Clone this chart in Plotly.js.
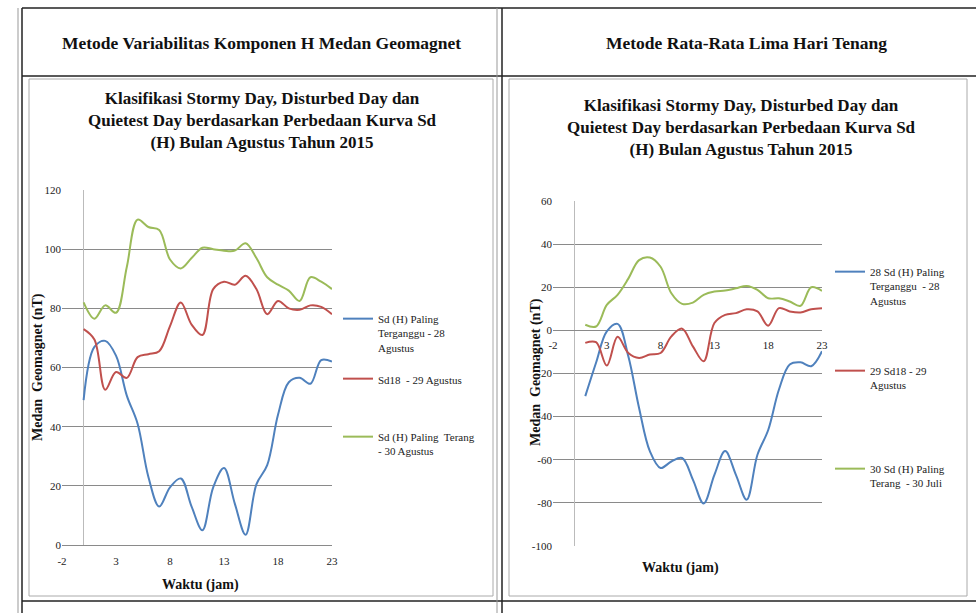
<!DOCTYPE html>
<html>
<head>
<meta charset="utf-8">
<script src="https://cdn.plot.ly/plotly-3.0.1.min.js"></script>
<style>html,body{margin:0;padding:0;background:#fff;}#chart{width:976px;height:613px;}</style>
</head>
<body>
<div id="chart"></div>
<script>
// ---------- data ----------
var hoursLeft = [0,1,2,3,4,5,6,7,8,9,10,11,12,13,14,15,16,17,18,19,20,21,22,23];
var blueLeft  = [49,67,69,64,50.5,41,23,13,19.5,22.5,13,5,19.5,26,14,3.5,20.5,27,44,55,56.5,54.5,62.5,62];
var redLeft   = [73,69.5,52.5,58.5,56.5,63.5,64.5,65.5,74,82,74.5,71,86.5,89,88,91,86.5,78,82.5,80,79.5,81,80.5,78];
var greenLeft = [82,76.5,81,78.5,94,110,107.5,106.5,96.5,93.5,97,100.5,100,99.5,99.5,102,97,90.5,88,86,82.5,90.5,89,86.5];

var hoursRight = [1,2,3,4,5,6,7,8,9,10,11,12,13,14,15,16,17,18,19,20,21,22,23];
var blueRight  = [-30.5,-15,-0.5,3,-12,-36,-56,-63.8,-60.8,-59.2,-69.2,-80.3,-67,-56,-67,-78.5,-57.7,-46.2,-27.4,-15.8,-14.8,-16.6,-9.7];
var redRight   = [-5.8,-5.5,-16.3,-3,-10.5,-12.8,-11.2,-10.5,-2.8,0.8,-7.4,-14.3,3.4,7.2,8,9.8,8.8,2.2,10.3,8.8,8.3,9.8,10.3];
var greenRight = [2.6,1.8,11.8,16.5,24,32.6,33.8,29.5,17.2,12.3,12.9,16.5,18,18.5,19.5,20.6,18.8,14.9,14.9,13.4,11.4,20,18.3];

var namesLeft  = ["Sd (H) Paling<br>Terganggu - 28<br>Agustus", "Sd18  - 29 Agustus", "Sd (H) Paling  Terang<br>- 30 Agustus"];
var namesRight = ["28 Sd (H) Paling<br>Terganggu  - 28<br>Agustus", "29 Sd18 - 29<br>Agustus", "30 Sd (H) Paling<br>Terang  - 30 Juli"];

var xTicks = [-2,3,8,13,18,23];
var yTicksLeft = [0,20,40,60,80,100,120];
var yTicksRight = [-100,-80,-60,-40,-20,0,20,40,60];

var headerLeft = "Metode Variabilitas Komponen H Medan Geomagnet";
var headerRight = "Metode Rata-Rata Lima Hari Tenang";
var chartTitle = "Klasifikasi Stormy Day, Disturbed Day dan<br>Quietest Day berdasarkan Perbedaan Kurva Sd<br>(H) Bulan Agustus Tahun 2015";
var xTitle = "Waktu (jam)";
var yTitle = "Medan  Geomagnet (nT)";

// ---------- styling ----------
var W = 976, H = 613;
function PX(px){ return px / W; }
function PY(py){ return 1 - py / H; }
var colors = ["#4F81BD", "#C0504D", "#9BBB59"];
var serif = "Liberation Serif";

function tr(x, y, name, color, xa, ya, lg){
  return {x:x, y:y, name:name, type:"scatter", mode:"lines",
    line:{color:color, width:2, shape:"spline", smoothing:1},
    xaxis:xa, yaxis:ya, legend:lg, hoverinfo:"skip"};
}

var data = [
  tr(hoursLeft, blueLeft, namesLeft[0], colors[0], "x", "y", "legend"),
  tr(hoursLeft, redLeft, namesLeft[1], colors[1], "x", "y", "legend2"),
  tr(hoursLeft, greenLeft, namesLeft[2], colors[2], "x", "y", "legend3"),
  tr(hoursRight, blueRight, namesRight[0], colors[0], "x2", "y2", "legend4"),
  tr(hoursRight, redRight, namesRight[1], colors[1], "x2", "y2", "legend5"),
  tr(hoursRight, greenRight, namesRight[2], colors[2], "x2", "y2", "legend6")
];

function tickFont(){ return {family: serif, size: 11, color: "#222"}; }
var yRangeL = [0, 120], yRangeR = [-100, 60];
var ydomR = [PY(546), PY(201)];
var xPosR = ydomR[0] + (0 - yRangeR[0]) / (yRangeR[1] - yRangeR[0]) * (ydomR[1] - ydomR[0]);

function legendAt(px, py){
  return {x: PX(px), y: PY(py), xanchor:"left", yanchor:"top", bgcolor:"rgba(0,0,0,0)",
    font:{family: serif, size: 11, color:"#222"}, valign:"top", itemwidth:30, tracegroupgap:0};
}

var lineDark = {color:"#222", width:1.5};
var lineGray = {color:"#999", width:1};
function hl(x0,x1,y,ln){ return {type:"line", xref:"paper", yref:"paper", x0:PX(x0), x1:PX(x1), y0:PY(y), y1:PY(y), line:ln}; }
function vl(x,y0,y1,ln){ return {type:"line", xref:"paper", yref:"paper", x0:PX(x), x1:PX(x), y0:PY(y0), y1:PY(y1), line:ln}; }
function rect(x0,y0,x1,y1,ln){ return {type:"rect", xref:"paper", yref:"paper", x0:PX(x0), x1:PX(x1), y0:PY(y1), y1:PY(y0), line:ln, fillcolor:"rgba(0,0,0,0)"}; }

var layout = {
  width: W, height: H,
  margin: {l:0, r:0, t:0, b:0},
  paper_bgcolor: "#fff", plot_bgcolor: "#fff",
  font: {family: serif},
  showlegend: true,
  xaxis: {domain:[PX(62), PX(332)], range:[-2, 23], tickvals:xTicks, ticktext:xTicks.map(String),
    showgrid:false, zeroline:true, zerolinecolor:"#bbb", zerolinewidth:1, showline:false,
    ticks:"", ticklabelstandoff:8, tickfont:tickFont(), anchor:"y", fixedrange:true},
  yaxis: {domain:[PY(545), PY(190)], range:yRangeL, tickvals:yTicksLeft, ticktext:yTicksLeft.map(String),
    showgrid:true, gridcolor:"#8a8a8a", gridwidth:1, zeroline:true, zerolinecolor:"#8a8a8a", zerolinewidth:1,
    showline:false, ticks:"", tickfont:tickFont(), anchor:"x", fixedrange:true},
  xaxis2: {domain:[PX(553), PX(822)], range:[-2, 23], tickvals:xTicks, ticktext:xTicks.map(String),
    showgrid:false, zeroline:true, zerolinecolor:"#bbb", zerolinewidth:1, showline:false,
    ticks:"", ticklabelstandoff:7, tickfont:tickFont(), anchor:"free", position:xPosR, fixedrange:true},
  yaxis2: {domain:ydomR, range:yRangeR, tickvals:yTicksRight, ticktext:yTicksRight.map(String),
    showgrid:true, gridcolor:"#8a8a8a", gridwidth:1, zeroline:true, zerolinecolor:"#8a8a8a", zerolinewidth:1,
    showline:false, ticks:"", tickfont:tickFont(), anchor:"x2", fixedrange:true},
  legend: legendAt(338, 305),
  legend2: legendAt(338, 365),
  legend3: legendAt(338, 423),
  legend4: legendAt(830, 258),
  legend5: legendAt(830, 357),
  legend6: legendAt(830, 455),
  annotations: [
    {text: "<b>"+headerLeft+"</b>", xref:"paper", yref:"paper", x:PX(261), y:PY(43), xanchor:"center", yanchor:"middle", showarrow:false,
      font:{family:serif, size:17.5, color:"#111"}},
    {text: "<b>"+headerRight+"</b>", xref:"paper", yref:"paper", x:PX(746), y:PY(43), xanchor:"center", yanchor:"middle", showarrow:false,
      font:{family:serif, size:17.5, color:"#111"}},
    {text: "<b>"+chartTitle+"</b>", xref:"paper", yref:"paper", x:PX(262), y:PY(121), xanchor:"center", yanchor:"middle", showarrow:false,
      font:{family:serif, size:17, color:"#111"}},
    {text: "<b>"+chartTitle+"</b>", xref:"paper", yref:"paper", x:PX(741), y:PY(127.5), xanchor:"center", yanchor:"middle", showarrow:false,
      font:{family:serif, size:17, color:"#111"}},
    {text: "<b>"+xTitle+"</b>", xref:"paper", yref:"paper", x:PX(200), y:PY(585), xanchor:"center", yanchor:"middle", showarrow:false,
      font:{family:serif, size:14, color:"#111"}},
    {text: "<b>"+xTitle+"</b>", xref:"paper", yref:"paper", x:PX(680), y:PY(568), xanchor:"center", yanchor:"middle", showarrow:false,
      font:{family:serif, size:14, color:"#111"}},
    {text: "<b>"+yTitle+"</b>", xref:"paper", yref:"paper", x:PX(38), y:PY(367), xanchor:"center", yanchor:"middle", showarrow:false,
      textangle:-90, font:{family:serif, size:14, color:"#111"}},
    {text: "<b>"+yTitle+"</b>", xref:"paper", yref:"paper", x:PX(536), y:PY(372), xanchor:"center", yanchor:"middle", showarrow:false,
      textangle:-90, font:{family:serif, size:14, color:"#111"}}
  ],
  shapes: [
    hl(22, 976, 8, lineDark),
    hl(22, 976, 76, lineDark),
    hl(22, 976, 601, lineDark),
    vl(18, 8, 613, lineGray),
    vl(22, 8, 613, lineDark),
    vl(497, 8, 613, lineGray),
    vl(502, 8, 613, lineDark),
    rect(29, 79, 493, 596, {color:"#aaa", width:1}),
    rect(509, 79, 967, 596, {color:"#aaa", width:1})
  ]
};

Plotly.newPlot("chart", data, layout, {displayModeBar:false, staticPlot:true});
</script>
</body>
</html>
